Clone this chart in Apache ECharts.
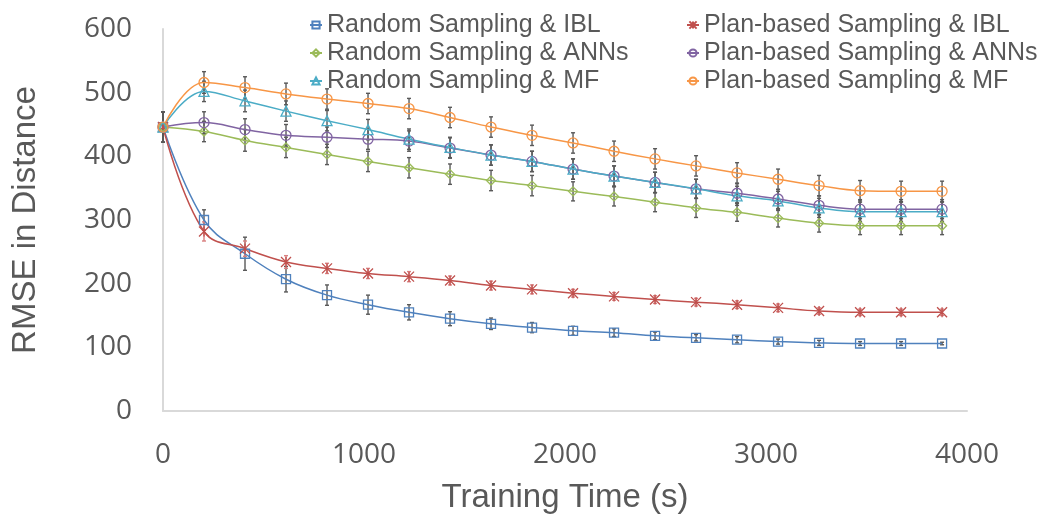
<!DOCTYPE html>
<html>
<head>
<meta charset="utf-8">
<script src="https://cdn.jsdelivr.net/npm/echarts@6/dist/echarts.min.js"></script>
<style>
  html, body { margin: 0; padding: 0; background: #fff; }
  #chart { width: 1038px; height: 520px; }
</style>
</head>
<body>
<div id="chart"></div>
<script>
// training time (s) of each measurement
var times = [0, 204, 408, 612, 816, 1020, 1224, 1428, 1632, 1836, 2040, 2244, 2448, 2652, 2856, 3060, 3264, 3468, 3672, 3876];

// RMSE values per method
var randomIBL  = [446, 300, 247, 207, 182, 167, 155, 145, 137, 131, 126, 123, 118, 115, 112, 109, 107, 106, 106, 106];
var planIBL    = [446, 282, 255, 234, 224, 216, 211, 205, 197, 191, 185, 180, 175, 171, 167, 162, 157, 155, 155, 155];
var randomANNs = [446, 439, 425, 414, 403, 392, 382, 372, 362, 354, 345, 337, 328, 319, 312, 303, 295, 291, 291, 291];
var planANNs   = [446, 453, 442, 433, 430, 427, 424, 413, 402, 392, 380, 369, 359, 349, 342, 333, 323, 317, 317, 317];
var randomMF   = [446, 502, 487, 471, 456, 442, 427, 414, 402, 392, 380, 369, 359, 349, 338, 330, 319, 313, 313, 313];
var planMF     = [446, 516, 508, 498, 490, 483, 475, 461, 446, 433, 421, 408, 396, 385, 374, 364, 354, 346, 345, 345];

// error bar half-lengths
var errRandomIBL  = [24, 16, 26, 20, 16, 15, 12, 11, 9, 8, 7, 6, 6, 5, 5, 4, 4, 3, 3, 2];
var errPlanIBL    = [24, 15, 12, 10, 8, 8, 8, 7, 7, 7, 6, 6, 6, 6, 6, 6, 5, 5, 5, 5];
var errRandomANNs = [24, 16, 17, 16, 16, 16, 16, 16, 16, 16, 15, 15, 15, 15, 14, 14, 14, 14, 14, 14];
var errPlanANNs   = [24, 17, 17, 17, 16, 16, 16, 16, 16, 16, 16, 16, 16, 15, 15, 15, 15, 15, 15, 15];
var errRandomMF   = [24, 16, 17, 16, 16, 16, 16, 16, 16, 16, 16, 16, 16, 15, 15, 15, 15, 15, 15, 15];
var errPlanMF     = [24, 17, 17, 17, 16, 16, 16, 16, 16, 16, 16, 16, 16, 16, 16, 16, 16, 16, 16, 16];

var names = [
  'Random Sampling & IBL', 'Plan-based Sampling & IBL',
  'Random Sampling & ANNs', 'Plan-based Sampling & ANNs',
  'Random Sampling & MF', 'Plan-based Sampling & MF'
];

var textColor = '#595959';
var axisColor = '#d9d9d9';

function pairs(ys) {
  return times.map(function (t, i) { return [t, ys[i]]; });
}

function triples(ys, es) {
  return times.map(function (t, i) { return [t, ys[i], es[i]]; });
}

function lineSeries(name, ys, color, symbol, size) {
  return {
    name: name,
    type: 'line',
    smooth: 0.4,
    data: pairs(ys),
    symbol: symbol,
    symbolSize: size,
    z: 3,
    lineStyle: { color: color, width: 1.5 },
    itemStyle: { color: 'rgba(255,255,255,0)', borderColor: color, borderWidth: 1.3 }
  };
}

function errorSeries(ys, es, color) {
  return {
    type: 'custom',
    z: 2,
    silent: true,
    data: triples(ys, es),
    renderItem: function (params, api) {
      var x = api.value(0), y = api.value(1), e = api.value(2);
      var hi = api.coord([x, y + e]);
      var lo = api.coord([x, y - e]);
      var w = 2;
      var st = { stroke: color, lineWidth: 1.4 };
      return {
        type: 'group',
        children: [
          { type: 'line', shape: { x1: hi[0], y1: hi[1], x2: lo[0], y2: lo[1] }, style: st },
          { type: 'line', shape: { x1: hi[0] - w, y1: hi[1], x2: hi[0] + w, y2: hi[1] }, style: st },
          { type: 'line', shape: { x1: lo[0] - w, y1: lo[1], x2: lo[0] + w, y2: lo[1] }, style: st }
        ]
      };
    }
  };
}

var starPath = 'path://M0,0L10,10M10,0L0,10M5,0L5,10';

var myChart = echarts.init(document.getElementById('chart'));

var legendText = { color: textColor, fontSize: 25, fontFamily: 'Liberation Sans, Arial, sans-serif', lineHeight: 28 };

var option = {
  animation: false,
  backgroundColor: '#fff',
  grid: { left: 163, right: 71, top: 29, bottom: 109 },
  legend: [
    {
      data: [names[0], names[2], names[4]],
      orient: 'vertical', left: 304, top: 6, itemGap: 0,
      itemWidth: 12, itemHeight: 9,
      textStyle: legendText
    },
    {
      data: [names[1], names[3], names[5]],
      orient: 'vertical', left: 681, top: 6, itemGap: 0,
      itemWidth: 12, itemHeight: 9,
      textStyle: legendText
    }
  ],
  xAxis: {
    type: 'value',
    min: 0, max: 4000, interval: 1000,
    name: 'Training Time (s)',
    nameLocation: 'middle',
    nameGap: 70,
    nameTextStyle: { color: textColor, fontSize: 33, fontFamily: 'Liberation Sans, Arial, sans-serif' },
    axisLine: { lineStyle: { color: axisColor, width: 2 } },
    axisTick: { show: false },
    splitLine: { show: false },
    axisLabel: {
      color: textColor, fontSize: 28, fontFamily: 'Open Sans, sans-serif', margin: 30,
      formatter: function (v) { return String(v); }
    }
  },
  yAxis: {
    type: 'value',
    min: 0, max: 600, interval: 100,
    name: 'RMSE in Distance',
    nameLocation: 'middle',
    nameGap: 121,
    nameTextStyle: { color: textColor, fontSize: 33, fontFamily: 'Liberation Sans, Arial, sans-serif' },
    axisLine: { show: true, lineStyle: { color: axisColor, width: 2 } },
    axisTick: { show: false },
    splitLine: { show: false },
    axisLabel: { color: textColor, fontSize: 28, fontFamily: 'Open Sans, sans-serif', margin: 31 }
  },
  series: [
    errorSeries(randomIBL, errRandomIBL, '#595959'),
    errorSeries(planIBL, errPlanIBL, '#d98080'),
    errorSeries(randomANNs, errRandomANNs, '#595959'),
    errorSeries(planANNs, errPlanANNs, '#595959'),
    errorSeries(randomMF, errRandomMF, '#595959'),
    errorSeries(planMF, errPlanMF, '#595959'),
    lineSeries(names[0], randomIBL, '#4F81BD', 'rect', 9),
    lineSeries(names[1], planIBL, '#C0504D', starPath, 10),
    lineSeries(names[2], randomANNs, '#9BBB59', 'diamond', 9),
    lineSeries(names[3], planANNs, '#8064A2', 'circle', 10),
    lineSeries(names[4], randomMF, '#4BACC6', 'triangle', 10),
    lineSeries(names[5], planMF, '#F79646', 'circle', 10)
  ]
};

myChart.setOption(option);
</script>
</body>
</html>
